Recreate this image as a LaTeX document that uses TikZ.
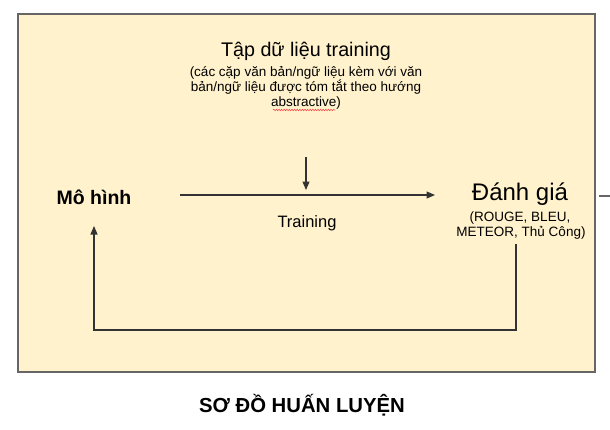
\documentclass[tikz,border=0pt]{standalone}
\usepackage{fontspec}
\setmainfont{Liberation Sans}
\usetikzlibrary{arrows.meta,decorations.pathmorphing}
\definecolor{boxfill}{HTML}{FFF2CC}
\definecolor{boxline}{HTML}{666666}
\definecolor{lineclr}{HTML}{333333}
\begin{document}
\begin{tikzpicture}[x=1pt,y=-1pt,
  txt/.style={inner sep=0pt,anchor=base,text=black},
  conn/.style={draw=lineclr,line width=1.2pt},
  arr/.style={conn,-{Triangle[length=8.5pt,width=7pt]}}]
\useasboundingbox (0,0) rectangle (610,429);
\draw[fill=boxfill,draw=boxline,line width=1.3pt] (18,14) rectangle (595,372);
% texts
\node[txt] (title) at (306,56.5) {\fontsize{19.7}{23}\selectfont Tập dữ liệu training};
\node[txt] (sub1) at (306,76) {\fontsize{13.5}{16}\selectfont (các cặp văn bản/ngữ liệu kèm với văn};
\node[txt] (sub2) at (306,91) {\fontsize{13.5}{16}\selectfont bản/ngữ liệu được tóm tắt theo hướng};
\node[txt] (sub3) at (306,106) {\fontsize{13.5}{16}\selectfont abstractive)};
\node[txt] (mo) at (94,204) {\fontsize{19.5}{23}\selectfont\bfseries Mô hình};
\node[txt] (dg) at (520,200) {\fontsize{24}{28}\selectfont Đánh giá};
\node[txt] (dg1) at (520,221) {\fontsize{13.5}{16}\selectfont (ROUGE, BLEU,};
\node[txt] (dg2) at (521,236) {\fontsize{13.5}{16}\selectfont METEOR, Thủ Công)};
\node[txt] (tr) at (307,227) {\fontsize{16.5}{20}\selectfont Training};
\node[txt] (cap) at (302,412) {\fontsize{20.3}{24}\selectfont\bfseries SƠ ĐỒ HUẤN LUYỆN};
% spell-check squiggle
\draw[red!75,line width=0.5pt,decorate,decoration={snake,amplitude=0.8pt,segment length=2.6pt}] (273,110) -- (335,110);
% coordinates
\coordinate (dtop) at (306,157);
\coordinate (dbot) at (306,190);
\coordinate (hstart) at (180,195);
\coordinate (hend) at (435,195);
\coordinate (l1) at (516,244);
\coordinate (l2) at (516,330);
\coordinate (l3) at (94,330);
\coordinate (l4) at (94,226);
\coordinate (s1) at (599,196);
\coordinate (s2) at (610,196);
% connectors
\draw[arr] (dtop) -- (dbot);
\draw[arr] (hstart) -- (hend);
\draw[arr] (l1) -- (l2) -- (l3) -- (l4);
\draw[conn,draw=boxline] (s1) -- (s2);
\end{tikzpicture}
\end{document}
